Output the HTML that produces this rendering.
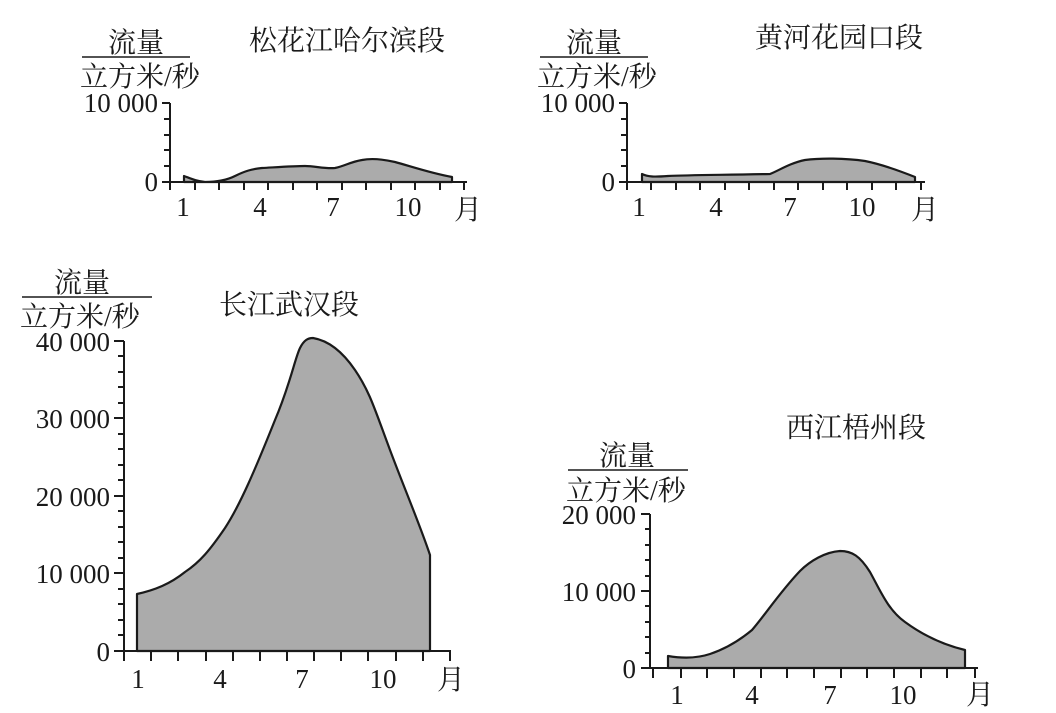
<!DOCTYPE html>
<html><head><meta charset="utf-8"><style>
body{margin:0;background:#fff}
svg text{font-family:"Liberation Serif","Noto Serif CJK SC",serif;fill:#1a1a1a}
</style></head><body>
<svg width="1056" height="708" viewBox="0 0 1056 708" xmlns="http://www.w3.org/2000/svg">
<g stroke="#1a1a1a" stroke-width="2" fill="none">
<path d="M170 103V182H467"/>
<path d="M162 103H170M164 119H170M164 135H170M164 150H170M164 166H170M162 182H170"/>
<path d="M170 182v8M195 182v8M219 182v8M244 182v8M268 182v8M293 182v8M317 182v8M342 182v8M366 182v8M391 182v8M415 182v8M440 182v8M464 182v8"/>
<path d="M627 103V182H925"/>
<path d="M619 103H627M621 119H627M621 135H627M621 150H627M621 166H627M619 182H627"/>
<path d="M627 182v8M651 182v8M676 182v8M700 182v8M725 182v8M749 182v8M774 182v8M798 182v8M823 182v8M847 182v8M872 182v8M896 182v8M921 182v8"/>
<path d="M124 341V651H451"/>
<path d="M114 341H124M118 356H124M118 372H124M118 387H124M118 403H124M114 418H124M118 434H124M118 449H124M118 465H124M118 480H124M114 496H124M118 511H124M118 527H124M118 542H124M118 558H124M114 573H124M118 589H124M118 604H124M118 620H124M118 635H124M114 651H124"/>
<path d="M124 651v10M151 651v10M178 651v10M206 651v10M233 651v10M260 651v10M287 651v10M314 651v10M341 651v10M368 651v10M396 651v10M423 651v10M450 651v10"/>
<path d="M650 514V668H978"/>
<path d="M641 514H650M645 529H650M645 545H650M645 560H650M645 576H650M641 591H650M645 606H650M645 622H650M645 637H650M645 653H650M641 668H650"/>
<path d="M653 668v10M681 668v10M707 668v10M734 668v10M761 668v10M787 668v10M814 668v10M841 668v10M867 668v10M894 668v10M921 668v10M947 668v10M975 668v10"/>
<path d="M82 57H190M540 57H648M22 297H152M568 470H688" stroke-width="1.5"/>
</g>
<g fill="#ababab" stroke="#1a1a1a" stroke-width="2.2" stroke-linejoin="round">
<path d="M184 182V176C192 179 196 181 205 182C215 182 225 181 235 176C245 171 252 169 262 168C280 167 295 166 305 166C315 166 325 169 335 168C345 166 350 162 362 160C372 158 382 159 395 162C410 166 430 173 452 177V182Z"/>
<path d="M642 182V174C648 177 655 177 668 176C690 175 720 175 770 174C778 171 790 163 805 160C820 158 845 158 865 161C885 165 905 173 915 177V182Z"/>
<path d="M137 651V594C155 590 170 584 185 572C200 562 210 550 225 528C240 505 255 470 275 420C290 385 295 358 300 348C304 340 308 338 313 338C325 340 340 348 355 370C370 392 375 410 390 450C405 490 420 525 430 555V651Z"/>
<path d="M668 668V656C680 658 695 659 710 654C725 649 740 640 752 630C765 615 780 592 800 571C810 561 825 552 840 551C852 551 860 556 870 572C880 590 888 610 905 622C920 633 940 644 965 650V668Z"/>
</g>
<g font-size="28">
<text x="249" y="50">松花江哈尔滨段</text>
<text x="755" y="47">黄河花园口段</text>
<text x="219" y="314">长江武汉段</text>
<text x="786" y="437">西江梧州段</text>
<text x="108" y="52">流量</text>
<text x="80" y="86">立方米/秒</text>
<text x="566" y="52">流量</text>
<text x="537" y="86">立方米/秒</text>
<text x="54" y="292">流量</text>
<text x="20" y="326">立方米/秒</text>
<text x="599" y="465">流量</text>
<text x="566" y="500">立方米/秒</text>
<text x="454" y="219">月</text>
<text x="911" y="219">月</text>
<text x="437" y="689">月</text>
<text x="966" y="704">月</text>
</g>
<g font-size="27">
<text x="158" y="112" text-anchor="end">10 000</text>
<text x="158" y="191" text-anchor="end">0</text>
<text x="615" y="112" text-anchor="end">10 000</text>
<text x="615" y="191" text-anchor="end">0</text>
<g text-anchor="middle">
<text x="183" y="216">1</text><text x="260" y="216">4</text><text x="333" y="216">7</text><text x="408" y="216">10</text>
<text x="639" y="216">1</text><text x="716" y="216">4</text><text x="790" y="216">7</text><text x="862" y="216">10</text>
<text x="138" y="688">1</text><text x="220" y="688">4</text><text x="302" y="688">7</text><text x="383" y="688">10</text>
<text x="677" y="704">1</text><text x="752" y="704">4</text><text x="830" y="704">7</text><text x="903" y="704">10</text>
</g>
<text x="110" y="351" text-anchor="end">40 000</text>
<text x="110" y="428" text-anchor="end">30 000</text>
<text x="110" y="506" text-anchor="end">20 000</text>
<text x="110" y="583" text-anchor="end">10 000</text>
<text x="110" y="661" text-anchor="end">0</text>
<text x="636" y="524" text-anchor="end">20 000</text>
<text x="636" y="601" text-anchor="end">10 000</text>
<text x="636" y="678" text-anchor="end">0</text>
</g>
</svg>
</body></html>
